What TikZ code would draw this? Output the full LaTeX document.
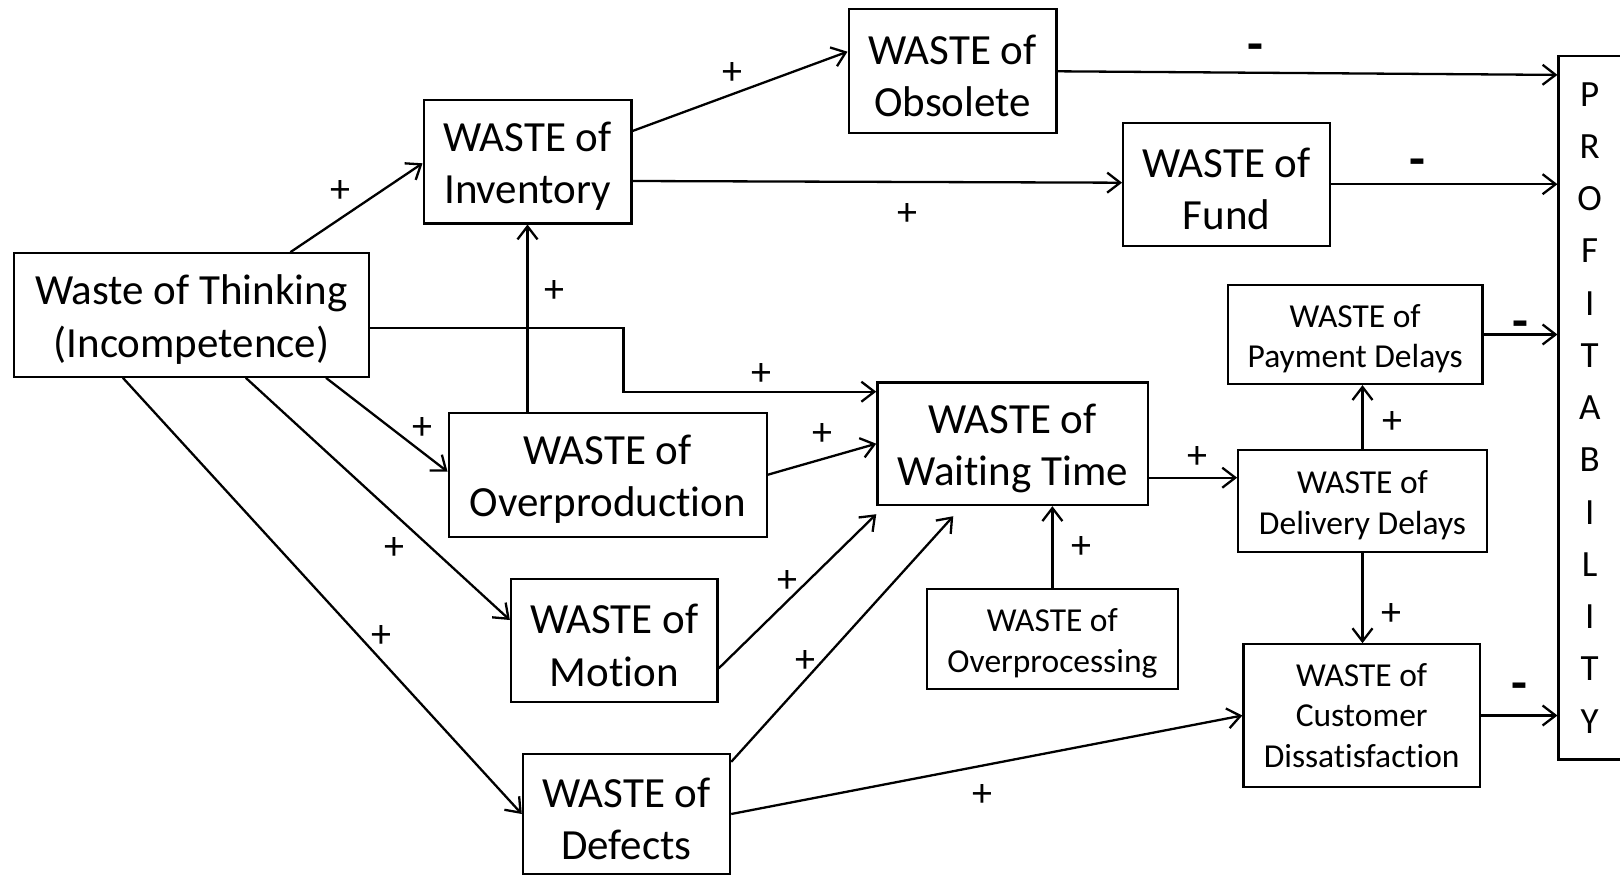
\documentclass[tikz,border=0pt]{standalone}
\usepackage{fontspec}
\setmainfont{Carlito}[Ligatures=NoCommon]
\usetikzlibrary{arrows.meta,calc}
\newcommand\bigtxt{\fontsize{43}{52.5}\selectfont}
\newcommand\smalltxt{\fontsize{33.5}{40.5}\selectfont}
\newcommand\proftxt{\fontsize{37}{52.25}\selectfont}
\newcommand\bigup{\rule{0pt}{39pt}}
\newcommand\smallup{\rule{0pt}{31.5pt}}
\tikzset{
  wbox/.style={draw, line width=2.3pt, inner sep=0pt, align=center, font=\bigtxt},
  sbox/.style={draw, line width=2.3pt, inner sep=0pt, align=center, font=\smalltxt},
  arr/.style={line width=2.3pt, -{Straight Barb[length=13pt,width=20pt]}},
  plus/.style={inner sep=0pt, font=\fontsize{40}{48}\selectfont},
  minus/.style={inner sep=0pt, anchor=base, font=\fontsize{52}{60}\selectfont\bfseries},
}
\begin{document}
\begin{tikzpicture}[x=1pt,y=-1pt]
\useasboundingbox[fill=white] (0,0) rectangle (1620,875);
% boxes
\node[wbox, minimum width=354.6pt, minimum height=123.4pt] (think) at (191.4,315) {\bigup Waste of Thinking\\(Incompetence)};
\node[wbox, minimum width=207.7pt, minimum height=123.3pt] (inv) at (527.5,161.7) {\bigup WASTE of\\Inventory};
\node[wbox, minimum width=207.7pt, minimum height=124pt] (obs) at (952.5,71.3) {\bigup WASTE of\\Obsolete};
\node[wbox, minimum width=206.6pt, minimum height=123pt] (fund) at (1226.5,184.2) {\bigup WASTE of\\Fund};
\node[draw, line width=2.3pt, inner sep=0pt, align=center, font=\proftxt, minimum width=62.2pt, minimum height=703.3pt] (prof) at (1589.7,407.7) {P\\R\\O\\F\\I\\T\\A\\B\\I\\L\\I\\T\\Y};
\node[sbox, minimum width=254.7pt, minimum height=99pt] (pay) at (1355.2,334.5) {\smallup WASTE of\\Payment Delays};
\node[sbox, minimum width=248.4pt, minimum height=101.7pt] (del) at (1362.5,500.8) {\smallup WASTE of\\Delivery Delays};
\node[sbox, minimum width=236.4pt, minimum height=142.4pt] (cust) at (1361.7,715.5) {WASTE of\\Customer\\Dissatisfaction};
\node[wbox, minimum width=270.4pt, minimum height=122.7pt] (wait) at (1012.6,443.7) {\bigup WASTE of\\Waiting Time};
\node[sbox, minimum width=250.5pt, minimum height=100pt] (proc) at (1052.4,639.3) {\smallup WASTE of\\Overprocessing};
\node[wbox, minimum width=318pt, minimum height=124pt] (prod) at (607.7,474.7) {\bigup WASTE of\\Overproduction};
\node[wbox, minimum width=206.6pt, minimum height=122.4pt] (mot) at (614.3,640.5) {\bigup WASTE of\\Motion};
\node[wbox, minimum width=207.1pt, minimum height=120pt] (def) at (626.5,814) {\bigup WASTE of\\Defects};
% connectors
\draw[arr] ([xshift=99pt]think.north) -- ([yshift=-1.6pt]inv.west);
\draw[arr] ([yshift=30.7pt]inv.east) -- ([yshift=19.6pt]obs.west);
\draw[arr] ([yshift=-19.3pt]inv.east) -- ([yshift=1.5pt]fund.west);
\draw[arr] (obs.east) -- ([yshift=-20pt]prof.north west);
\draw[arr] (fund.east) -- (fund.east -| prof.west);
\draw[arr] (pay.east) -- (pay.east -| prof.west);
\draw[arr] (cust.east) -- (cust.east -| prof.west);
\draw[arr] (prod.north -| inv.south) -- (inv.south);
\draw[arr] ([yshift=-12.7pt]think.east) -- ++(253.7,0) |- ([yshift=52pt]wait.west);
\draw[arr] ([xshift=134.6pt]think.south) -- ([yshift=3pt]prod.west);
\draw[arr] ([xshift=54.4pt]think.south) -- ([yshift=20.5pt]mot.west);
\draw[arr] ([xshift=-68.5pt]think.south) -- (def.west);
\draw[arr] (prod.east) -- (wait.west);
\draw[arr] ([yshift=-27.8pt]mot.east) -- ([yshift=-8pt]wait.south west);
\draw[arr] ([yshift=-9pt]def.north east) -- ([xshift=77pt,yshift=-10pt]wait.south west);
\draw[arr] (def.east) -- (cust.west);
\draw[arr] ([yshift=-34pt]wait.east) -- ([yshift=-34pt]wait.east -| del.west);
\draw[arr] (proc.north) -- (proc.north |- wait.south);
\draw[arr] (del.north) -- (del.north |- pay.south);
\draw[arr] (del.south) -- (del.south |- cust.north);
% signs
\node[plus] (s1) at (340,192) {+};
\node[plus] (s2) at (732.2,74) {+};
\node[plus] (s3) at (907.2,215) {+};
\node[minus] (s4) at (1255,61.5) {-};
\node[minus] (s5) at (1417.2,176.5) {-};
\node[minus] (s6) at (1520.7,338.3) {-};
\node[minus] (s7) at (1519.1,700) {-};
\node[plus] (s8) at (554.4,292) {+};
\node[plus] (s9) at (761,375) {+};
\node[plus] (s10) at (422.6,428) {+};
\node[plus] (s11) at (394.9,548) {+};
\node[plus] (s12) at (381.8,636) {+};
\node[plus] (s13) at (822,434.5) {+};
\node[plus] (s14) at (787.1,581) {+};
\node[plus] (s15) at (805.4,661) {+};
\node[plus] (s16) at (982,795) {+};
\node[plus] (s17) at (1197.5,457.5) {+};
\node[plus] (s18) at (1081.4,547.5) {+};
\node[plus] (s19) at (1392.6,423) {+};
\node[plus] (s20) at (1391,614.5) {+};
\end{tikzpicture}
\end{document}
